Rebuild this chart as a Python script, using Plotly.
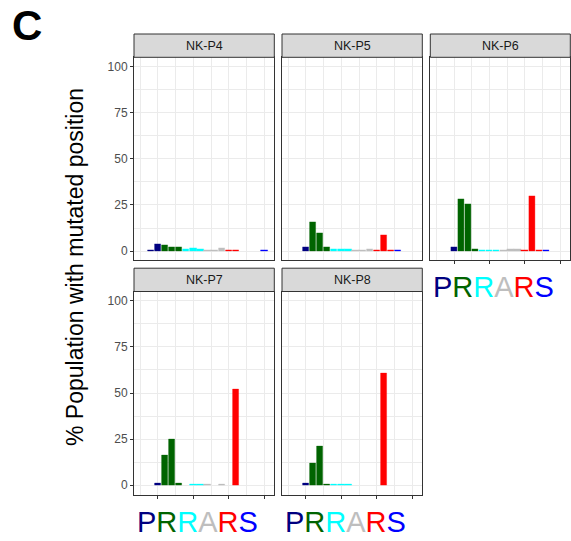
import plotly.graph_objects as go

W, H = 571, 541

# ---------------- data ----------------
positions = list(range(3, 21))  # nucleotide positions (3 per residue)
residues = ["P", "R", "R", "A", "R", "S"]
residue_colors = ["#000080", "#006400", "#00FFFF", "#BEBEBE", "#FF0000", "#0000FF"]

panels = ["NK-P4", "NK-P5", "NK-P6", "NK-P7", "NK-P8"]
nk_p4 = [0, 0.5, 3.8, 2.9, 2.3, 1.8, 0.9, 1.4, 0.9, 0.5, 0.5, 1.4, 0.5, 0.5, 0, 0, 0, 0.5]
nk_p5 = [0, 0, 2.3, 15.5, 9.4, 1.8, 0.9, 0.9, 0.9, 0.5, 0.5, 0.9, 0.5, 8.5, 0.5, 0.5, 0, 0]
nk_p6 = [0, 0, 1.8, 28.3, 25.5, 0.9, 0.5, 0.5, 0.5, 0.5, 0.9, 0.9, 0.5, 29.9, 0.5, 0.5, 0, 0]
nk_p7 = [0, 0, 0.9, 16.1, 25.0, 1.1, 0, 0.3, 0.3, 0.3, 0, 0.3, 0, 51.8, 0, 0, 0, 0]
nk_p8 = [0, 0, 1.1, 11.6, 21.2, 0.3, 0.3, 0.3, 0.3, 0, 0, 0, 0, 60.5, 0, 0, 0, 0]
values = [nk_p4, nk_p5, nk_p6, nk_p7, nk_p8]

y_ticks = [0, 25, 50, 75, 100]
x_ticks = [5, 10, 15, 20]

# ---------------- layout geometry (pixels) ----------------
cols_px = [(134, 274.3), (282, 422.3), (430.3, 570.3)]
rows_px = [(57.3, 260.3), (291.5, 494.5)]   # plot area top, bottom
strip_h = 23.3
panel_pos = [(0, 0), (0, 1), (0, 2), (1, 0), (1, 1)]
bottom_panels = {2, 3, 4}
left_panels = {0, 3}

def fx(px):
    return px / W

def fy(py):
    return 1 - py / H

bar_colors = [residue_colors[(p - 3) // 3] for p in positions]

def rgba(hexc, a):
    h = hexc.lstrip("#")
    return "rgba(%d,%d,%d,%.2f)" % (int(h[0:2], 16), int(h[2:4], 16), int(h[4:6], 16), a)

fig = go.Figure()
layout = {}
shapes = []
annotations = []
font_fam = "Liberation Sans, Arial, sans-serif"

for i, (name, vals) in enumerate(zip(panels, values)):
    r, c = panel_pos[i]
    xa = "x" if i == 0 else "x%d" % (i + 1)
    ya = "y" if i == 0 else "y%d" % (i + 1)
    fig.add_trace(go.Bar(
        x=positions, y=vals, width=0.9,
        marker=dict(color=bar_colors,
                    line=dict(color=[rgba(cc, 0.45) for cc in bar_colors],
                              width=[0.8 if v > 0 else 0 for v in vals])),
        xaxis=xa, yaxis=ya, showlegend=False, hoverinfo="x+y",
    ))
    x0, x1 = cols_px[c]
    t, b = rows_px[r]
    kx = "xaxis" if i == 0 else "xaxis%d" % (i + 1)
    ky = "yaxis" if i == 0 else "yaxis%d" % (i + 1)
    layout[kx] = dict(
        domain=[fx(x0), fx(x1)], anchor=ya, range=[1.65, 21.4],
        tickvals=x_ticks, showticklabels=False,
        ticks="outside" if i in bottom_panels else "", ticklen=3, tickwidth=1, tickcolor="#333333",
        showgrid=True, gridcolor="#EBEBEB", gridwidth=1.1,
        minor=dict(tickvals=[2.5, 7.5, 12.5, 17.5], showgrid=True, gridcolor="#EBEBEB", gridwidth=0.55, ticks=""),
        showline=True, mirror=True, linecolor="#333333", linewidth=1, zeroline=False,
    )
    layout[ky] = dict(
        domain=[fy(b), fy(t)], anchor=xa, range=[-5, 105],
        tickvals=y_ticks, ticktext=[str(v) for v in y_ticks], showticklabels=i in left_panels,
        tickfont=dict(size=12, color="#4D4D4D", family=font_fam),
        ticks="outside" if i in left_panels else "", ticklen=3, tickwidth=1, tickcolor="#333333",
        showgrid=True, gridcolor="#EBEBEB", gridwidth=1.1,
        minor=dict(tickvals=[12.5, 37.5, 62.5, 87.5], showgrid=True, gridcolor="#EBEBEB", gridwidth=0.55, ticks=""),
        showline=True, mirror=True, linecolor="#333333", linewidth=1, zeroline=False,
    )
    # strip
    shapes.append(dict(type="rect", xref="paper", yref="paper",
                       x0=fx(x0), x1=fx(x1), y0=fy(t), y1=fy(t - strip_h),
                       fillcolor="#D9D9D9", line=dict(color="#333333", width=1), layer="above"))
    annotations.append(dict(text=name, xref="paper", yref="paper",
                            x=fx((x0 + x1) / 2), y=fy(t - strip_h / 2), xanchor="center", yanchor="middle",
                            showarrow=False, font=dict(size=12.5, color="#1A1A1A", family=font_fam)))
    if i in bottom_panels:
        txt = "".join('<span style="color:%s">%s</span>' % (col, res) for res, col in zip(residues, residue_colors))
        annotations.append(dict(text=txt, xref="paper", yref="paper",
                                x=fx((x0 + x1) / 2 - 6.7), y=fy(b + 27), xanchor="center", yanchor="middle",
                                showarrow=False, font=dict(size=29, family=font_fam)))

annotations.append(dict(text="% Population with mutated position", xref="paper", yref="paper",
                        x=fx(75), y=fy(267), xanchor="center", yanchor="middle", textangle=-90,
                        showarrow=False, font=dict(size=23, color="#000000", family=font_fam)))
annotations.append(dict(text="<b>C</b>", xref="paper", yref="paper",
                        x=fx(27), y=fy(26), xanchor="center", yanchor="middle",
                        showarrow=False, font=dict(size=42, color="#000000", family=font_fam)))

fig.update_layout(
    width=W, height=H, margin=dict(l=0, r=0, t=0, b=0),
    paper_bgcolor="white", plot_bgcolor="white",
    shapes=shapes, annotations=annotations, bargap=0, **layout,
)
fig.write_html("out.html")
